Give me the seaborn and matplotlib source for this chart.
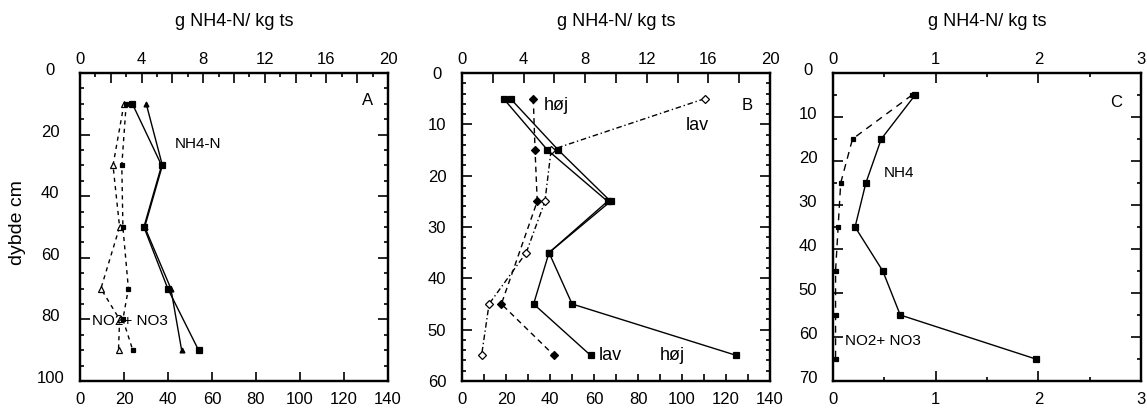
import numpy as np
import pandas as pd
import matplotlib
matplotlib.use("Agg")
import matplotlib.pyplot as plt
from matplotlib.ticker import FixedLocator, FixedFormatter
from matplotlib.transforms import ScaledTranslation
import seaborn as sns

sns.set_style("ticks")
plt.rcParams['font.family'] = ['Liberation Sans', 'DejaVu Sans']
for k in ('text.color', 'axes.labelcolor', 'xtick.color', 'ytick.color', 'axes.edgecolor'):
    plt.rcParams[k] = 'black'

# ---------------- data ----------------
# Panel A (depth in cm)
a_depth = [10, 30, 50, 70, 90]
a_nh4_1 = [3.4, 5.3, 4.15, 5.7, 7.7]        # g NH4-N / kg ts (top axis)
a_nh4_2 = [4.3, 5.35, 4.2, 5.9, 6.6]        # g NH4-N / kg ts (top axis)
a_no3_depth = [10, 30, 50, 70, 80, 90]
a_no3_1 = [20, 15, 18, 9.5, 18, 17.5]       # NO2+NO3 (bottom axis)
a_no3_2 = [21, 19, 19.5, 22, 19.5, 24]      # NO2+NO3 (bottom axis)

# Panel B
b_depth = [5, 15, 25, 35, 45, 55]
b_nh4_lav = [2.7, 5.55, 9.45, 5.65, 4.65, 8.35]   # top axis
b_nh4_hoj = [3.15, 6.25, 9.65, 5.65, 7.15, 17.8]  # top axis
b_no3_hoj_depth = [5, 15, 25, 45, 55]
b_no3_hoj = [32.4, 33.2, 34.2, 17.9, 41.8]         # bottom axis
b_no3_lav = [110.3, 40.5, 37.7, 29.2, 12.3, 8.9]   # bottom axis

# Panel C
c_depth = [5, 15, 25, 35, 45, 55, 65]
c_nh4 = [0.8, 0.47, 0.32, 0.215, 0.485, 0.655, 1.975]
c_no3 = [0.77, 0.19, 0.075, 0.05, 0.025, 0.025, 0.025]

top_label = "g NH4-N/ kg ts"

# ---------------- figure ----------------
W, H = 1147, 412
fig = plt.figure(figsize=(W / 100, H / 100), dpi=100)

def frac_rect(x0, x1, y0, y1):
    return [x0 / W, 1 - y1 / H, (x1 - x0) / W, (y1 - y0) / H]

axA = fig.add_axes(frac_rect(80, 388, 73, 381))
axB = fig.add_axes(frac_rect(462, 770, 73, 381))
axC = fig.add_axes(frac_rect(833, 1141, 73, 381))

def line(ax, x, y, ls='-', marker='s', ms=4, mfc='black'):
    sns.lineplot(x=x, y=y, ax=ax, sort=False, estimator=None, color='black',
                 linewidth=1.0, linestyle=ls, marker=marker, markersize=ms,
                 markerfacecolor=mfc, markeredgecolor='black', markeredgewidth=0.9)

def set_ticks(axis, major, minor, labels_at, fmt):
    axis.set_major_locator(FixedLocator(major))
    axis.set_minor_locator(FixedLocator(minor))
    axis.set_major_formatter(FixedFormatter([fmt(v) if v in labels_at else '' for v in major]))

def style_frame(ax):
    for s in ax.spines.values():
        s.set_linewidth(1.6)
        s.set_color('black')
        s.set_visible(True)

def fmt_int(v):
    return str(int(round(v)))

# ---------- Panel A ----------
axA2 = axA.twiny()
line(axA, a_no3_1, a_no3_depth, ls=(0, (3, 3)), marker='^', ms=4, mfc='white')
line(axA, a_no3_2, a_no3_depth, ls=(0, (3, 3)), marker='s', ms=3)
line(axA2, a_nh4_1, a_depth, ls='-', marker='s', ms=4)
line(axA2, a_nh4_2, a_depth, ls='-', marker='^', ms=3.5)
axA.set_xlim(0, 140)
axA2.set_xlim(0, 20)
axA.set_ylim(100, 0)

# ---------- Panel B ----------
axB2 = axB.twiny()
line(axB, b_no3_hoj, b_no3_hoj_depth, ls=(0, (4, 3)), marker='D', ms=4.5)
line(axB, b_no3_lav, b_depth, ls=(0, (4, 2, 1, 2)), marker='D', ms=4.5, mfc='white')
line(axB2, b_nh4_lav, b_depth, ls='-', marker='s', ms=4.5)
line(axB2, b_nh4_hoj, b_depth, ls='-', marker='s', ms=4.5)
axB.set_xlim(0, 140)
axB2.set_xlim(0, 20)
axB.set_ylim(60, 0)

# ---------- Panel C ----------
axC2 = axC.twiny()
line(axC, c_no3, c_depth, ls=(0, (5, 4)), marker='s', ms=3.2)
line(axC2, c_nh4, c_depth, ls='-', marker='s', ms=4.5)
axC.set_xlim(0, 3)
axC2.set_xlim(0, 3)
axC.set_ylim(70, 0)

for ax in (axA, axA2, axB, axB2, axC, axC2):
    ax.set_xlabel('')
    ax.set_ylabel('')
    style_frame(ax)

TICKFS = 12
# A ticks
set_ticks(axA.xaxis, list(range(0, 141, 20)), [], list(range(0, 141, 20)), fmt_int)
set_ticks(axA2.xaxis, list(range(0, 21, 2)), list(range(1, 20, 2)), list(range(0, 21, 4)), fmt_int)
set_ticks(axA.yaxis, list(range(0, 101, 20)), list(range(5, 100, 5)), list(range(0, 101, 20)), fmt_int)
# B ticks
set_ticks(axB.xaxis, list(range(0, 141, 10)), [], list(range(0, 141, 20)), fmt_int)
set_ticks(axB2.xaxis, list(range(0, 21, 2)), [], list(range(0, 21, 4)), fmt_int)
set_ticks(axB.yaxis, list(range(0, 61, 10)), list(range(2, 60, 2)), list(range(0, 61, 10)), fmt_int)
# C ticks
set_ticks(axC.xaxis, [0, 1, 2, 3], [0.5, 1.5, 2.5], [0, 1, 2, 3], fmt_int)
set_ticks(axC2.xaxis, [0, 1, 2, 3], [0.5, 1.5, 2.5], [0, 1, 2, 3], fmt_int)
set_ticks(axC.yaxis, list(range(0, 71, 10)), list(range(5, 70, 10)), list(range(0, 71, 10)), fmt_int)

for ax, ax2, ypad, bot_major in ((axA, axA2, 21.5, 6.5), (axB, axB2, 18, 5), (axC, axC2, 18, 7)):
    ax.tick_params(axis='x', which='major', direction='in', bottom=True, top=False,
                   length=bot_major, width=1.2, labelsize=TICKFS, pad=8, colors='black')
    ax.tick_params(axis='x', which='minor', direction='in', bottom=True, top=False,
                   length=2.8, width=1.2, colors='black')
    ax2.tick_params(axis='x', which='major', direction='in', top=True, bottom=False,
                    length=7.5, width=1.2, labelsize=TICKFS, pad=4, colors='black')
    ax2.tick_params(axis='x', which='minor', direction='in', top=True, bottom=False,
                    length=2.8, width=1.2, colors='black')
    ax.tick_params(axis='y', which='major', direction='in', left=True, right=True,
                   length=7.5, width=1.2, labelsize=TICKFS, pad=ypad, colors='black')
    ax.tick_params(axis='y', which='minor', direction='in', left=True, right=True,
                   length=2.8, width=1.2, colors='black')
    ax2.tick_params(axis='y', which='both', left=False, right=False, labelleft=False, labelright=False)
    for lbl in ax.get_yticklabels():
        lbl.set_horizontalalignment('center')

# shift y labels up a bit on A and C
for ax in (axA, axC):
    for lbl in ax.get_yticklabels():
        lbl.set_transform(lbl.get_transform() + ScaledTranslation(0, 4 / 100, fig.dpi_scale_trans))

# titles on top
for x0, x1 in ((80, 388), (462, 770), (833, 1141)):
    fig.text((x0 + x1) / 2 / W, 1 - 22 / H, top_label, ha='center', va='center', fontsize=13, color='black')

fig.text(18 / W, 1 - 223 / H, "dybde cm", rotation=90, ha='center', va='center', fontsize=14, color='black')

# annotations
axA.text(130.5, 9, "A", ha='center', va='center', fontsize=12)
axA.text(43, 23, "NH4-N", ha='left', va='center', fontsize=11)
axA.text(5.5, 80.5, "NO2+ NO3", ha='left', va='center', fontsize=11)

axB.text(129.5, 6.3, "B", ha='center', va='center', fontsize=12)
axB.text(37, 6.3, "høj", ha='left', va='center', fontsize=13)
axB.text(107, 10.2, "lav", ha='center', va='center', fontsize=13)
axB.text(62, 55, "lav", ha='left', va='center', fontsize=13)
axB.text(90, 55, "høj", ha='left', va='center', fontsize=13)

axC.text(2.76, 6.6, "C", ha='center', va='center', fontsize=12)
axC.text(0.49, 22.7, "NH4", ha='left', va='center', fontsize=11)
axC.text(0.12, 60.8, "NO2+ NO3", ha='left', va='center', fontsize=11)

fig.savefig("out.png", dpi=100, facecolor='white')
